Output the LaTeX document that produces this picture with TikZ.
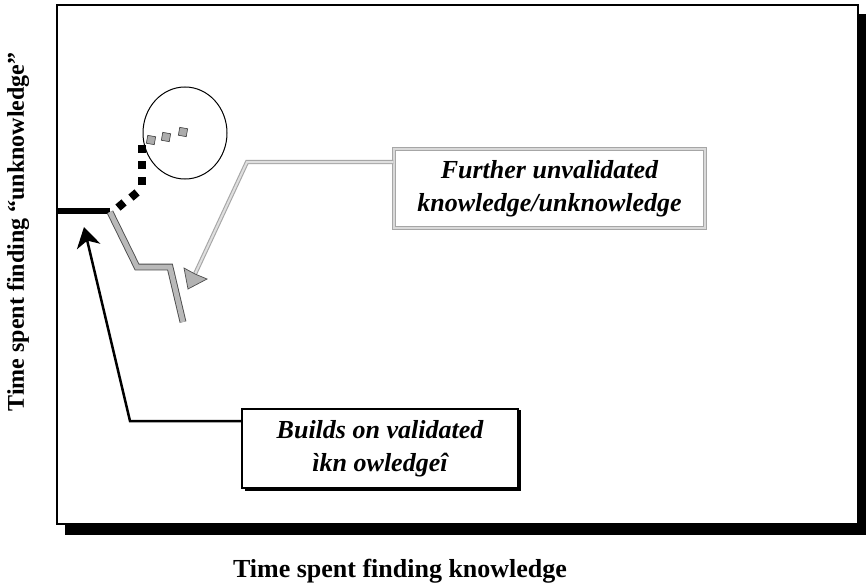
\documentclass[tikz,border=0pt]{standalone}
\usepackage{fontspec}
\setmainfont{Liberation Serif}
\usetikzlibrary{arrows.meta}
\begin{document}
\begin{tikzpicture}[x=1pt,y=-1pt,
  boxtext/.style={font=\fontsize{26}{33}\selectfont\bfseries\itshape, align=center},
  axistext/.style={font=\fontsize{26}{30}\selectfont\bfseries},
  gsq/.style={fill=gray!65, draw=gray!60!black, line width=0.7pt}]
\useasboundingbox (0,0) rectangle (866,583);
% frame with shadow
\fill[black] (65,14) rectangle (866,535);
\fill[white] (57,5) rectangle (858,524);
\draw[line width=1.5pt] (57,5) rectangle (858,524);
% axis labels
\node[axistext] (xlab) at (400,571) {Time spent finding knowledge};
\node[axistext, font=\fontsize{24}{28}\selectfont\bfseries, rotate=90] (ylab) at (18,232) {Time spent finding ``unknowledge''};
% validated knowledge line
\coordinate (v0) at (57,211);
\coordinate (v1) at (110,211);
\draw[line width=6.5pt] (v0) -- (v1);
% black dotted squares
\fill[black, rotate around={40:(121,205)}] (117,201) rectangle (125,209);
\fill[black, rotate around={40:(134,195)}] (130,191) rectangle (138,199);
\fill[black] (138,177) rectangle (146,185);
\fill[black] (138,161) rectangle (146,169);
\fill[black] (138,145) rectangle (146,153);
% gray squares
\draw[gsq, rotate around={-10:(151,140)}] (147,136) rectangle (155,144);
\draw[gsq, rotate around={-10:(166,137)}] (162,133) rectangle (170,141);
\draw[gsq, rotate around={-10:(183,132)}] (179,128) rectangle (187,136);
% circle
\draw[line width=1pt] (185,133) ellipse [x radius=42, y radius=46];
% gray zigzag
\draw[draw=gray!60!black, line width=0.9pt, double=gray!55, double distance=5pt, line join=miter]
  (110,212) -- (137,267) -- (170,267) -- (183,322);
% further box
\node[boxtext, draw=gray!70, line width=1.2pt, double=gray!30, double distance=1.6pt,
      minimum width=311pt, minimum height=79pt, inner sep=0pt] (fb) at (549.5,188.5)
  {Further unvalidated\\knowledge/unknowledge};
% gray hollow arrow
\coordinate (gturn) at (247,162);
\coordinate (gend) at (195,274);
\draw[draw=gray!70, line width=1.1pt, double=gray!25, double distance=2pt, line join=miter]
  (fb.west |- gturn) -- (gturn) -- (gend);
\filldraw[fill=gray!60, draw=gray!60!black, line width=0.7pt]
  (188,289) -- (184,268) -- (195,274) -- (207,279) -- cycle;
% builds box
\fill[black] (245,410) rectangle (521,491);
\node[boxtext, draw=black, fill=white, line width=2pt, minimum width=276pt, minimum height=79pt,
      inner sep=0pt] (bb) at (380,448.5) {Builds on validated\\ìkn owledgeî};
% black arrow
\coordinate (bturn) at (130,421);
\coordinate (btip) at (84,227);
\draw[line width=2.5pt, -{Stealth[length=20pt, width=24pt, inset=6pt]}]
  (bb.west |- bturn) -- (bturn) -- (btip);
\end{tikzpicture}
\end{document}
